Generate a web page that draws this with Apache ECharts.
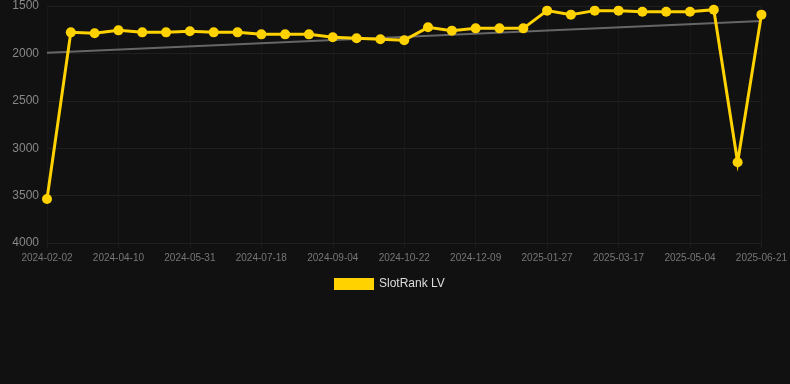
<!DOCTYPE html>
<html><head><meta charset="utf-8">
<script src="https://cdn.jsdelivr.net/npm/echarts@6/dist/echarts.min.js"></script>
<style>html,body{margin:0;padding:0;background:#111111;}#c{width:790px;height:384px;}</style>
</head><body><div id="c"></div>
<script>
const categories = ['2024-02-02','2024-03-09','2024-03-25','2024-04-10','2024-04-27','2024-05-14','2024-05-31','2024-06-16','2024-07-02','2024-07-18','2024-08-03','2024-08-19','2024-09-04','2024-09-20','2024-10-06','2024-10-22','2024-11-07','2024-11-23','2024-12-09','2024-12-25','2025-01-10','2025-01-27','2025-02-12','2025-02-28','2025-03-17','2025-04-02','2025-04-18','2025-05-04','2025-05-20','2025-06-05','2025-06-21'];
const rankValues = [3536,1778,1788,1757,1778,1778,1767,1778,1778,1799,1799,1799,1830,1841,1851,1862,1725,1760,1736,1736,1736,1549,1591,1549,1549,1560,1560,1560,1539,3149,1591];
const trendStart = 1992;
const trendEnd = 1658;
const trendValues = categories.map((c, i) => i === 0 ? trendStart : (i === categories.length - 1 ? trendEnd : null));

const chart = echarts.init(document.getElementById('c'), null, {renderer: 'canvas'});
chart.setOption({
  backgroundColor: '#111111',
  animation: false,
  grid: {left: 47, right: 28, top: 6, bottom: 141},
  legend: {
    data: ['SlotRank LV'],
    top: 273, left: 329,
    itemWidth: 40, itemHeight: 12, itemGap: 10,
    icon: 'rect',
    textStyle: {color: '#dddddd', fontSize: 12, fontFamily: 'Arial, Liberation Sans, sans-serif'}
  },
  xAxis: {
    type: 'category', data: categories, boundaryGap: false,
    axisLine: {show: false},
    axisTick: {show: true, interval: 2, length: 5, lineStyle: {color: '#1c1c1c'}},
    axisLabel: {interval: 2, color: '#777777', fontSize: 10, margin: 10, fontFamily: 'Arial, Liberation Sans, sans-serif'},
    splitLine: {show: true, interval: 2, lineStyle: {color: '#191919'}}
  },
  yAxis: {
    type: 'value', inverse: true, min: 1500, max: 4000, interval: 500,
    axisLine: {show: false}, axisTick: {show: false},
    axisLabel: {color: '#888888', fontSize: 12, margin: 8, fontFamily: 'Arial, Liberation Sans, sans-serif', formatter: v => String(v)},
    splitLine: {lineStyle: {color: '#1f1f1f'}}
  },
  series: [
    {
      name: 'SlotRank LV', type: 'line', data: rankValues,
      color: '#FFD200',
      symbol: 'circle', symbolSize: 10,
      lineStyle: {width: 3, color: '#FFD200', join: 'miter'},
      itemStyle: {color: '#FFD200'},
      z: 3
    },
    {
      name: 'Trend', type: 'line', data: trendValues, connectNulls: true,
      symbol: 'none',
      lineStyle: {width: 2, color: '#666666'},
      z: 2
    }
  ]
});
</script></body></html>
